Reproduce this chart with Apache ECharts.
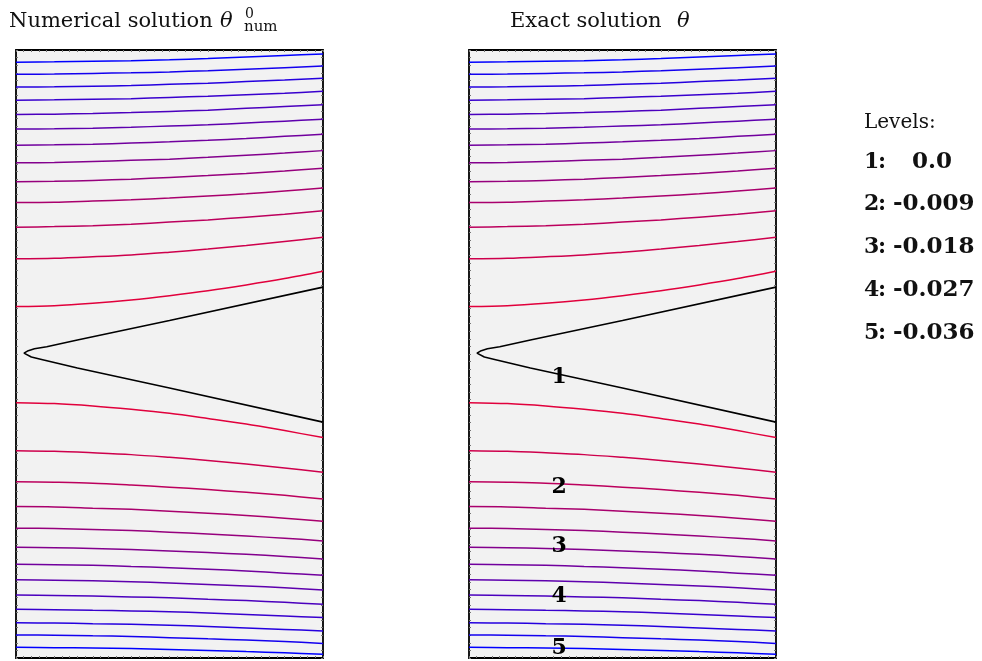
<!DOCTYPE html>
<html>
<head>
<meta charset="utf-8">
<script src="https://cdn.jsdelivr.net/npm/echarts@6/dist/echarts.min.js"></script>
<style>html,body{margin:0;padding:0;background:#fff;}#c{width:982px;height:661px;}</style>
</head>
<body>
<div id="c"></div>
<script>
// ---- data ----
const xs = [0, 0.125, 0.25, 0.375, 0.5, 0.625, 0.75, 0.875, 1];
// contour lines above the crack, listed from the top down to the crack
const upperLines = [
  [0.960, 0.961, 0.963, 0.965, 0.968, 0.972, 0.977, 0.982, 0.987],
  [0.920, 0.921, 0.923, 0.925, 0.928, 0.932, 0.937, 0.942, 0.947],
  [0.878, 0.879, 0.881, 0.883, 0.887, 0.891, 0.896, 0.901, 0.907],
  [0.835, 0.836, 0.838, 0.840, 0.844, 0.848, 0.853, 0.858, 0.864],
  [0.788, 0.789, 0.791, 0.794, 0.798, 0.802, 0.808, 0.814, 0.820],
  [0.740, 0.741, 0.743, 0.746, 0.750, 0.754, 0.760, 0.766, 0.772],
  [0.687, 0.688, 0.690, 0.694, 0.698, 0.703, 0.709, 0.716, 0.723],
  [0.629, 0.630, 0.633, 0.637, 0.641, 0.647, 0.654, 0.661, 0.669],
  [0.567, 0.568, 0.571, 0.575, 0.581, 0.587, 0.594, 0.602, 0.611],
  [0.498, 0.499, 0.503, 0.507, 0.513, 0.520, 0.527, 0.536, 0.546],
  [0.417, 0.419, 0.422, 0.427, 0.434, 0.441, 0.450, 0.460, 0.471],
  [0.313, 0.315, 0.320, 0.326, 0.335, 0.345, 0.357, 0.370, 0.384],
  [0.156, 0.159, 0.167, 0.178, 0.192, 0.208, 0.227, 0.248, 0.272]
];
// contour lines below the crack, from the crack down to the bottom
const lowerLines = [
  [-0.160, -0.163, -0.171, -0.182, -0.195, -0.212, -0.230, -0.252, -0.275],
  [-0.318, -0.320, -0.325, -0.331, -0.340, -0.350, -0.362, -0.375, -0.389],
  [-0.420, -0.422, -0.425, -0.431, -0.438, -0.446, -0.455, -0.465, -0.477],
  [-0.502, -0.503, -0.507, -0.511, -0.517, -0.524, -0.531, -0.540, -0.550],
  [-0.573, -0.574, -0.577, -0.581, -0.586, -0.592, -0.599, -0.606, -0.615],
  [-0.636, -0.637, -0.640, -0.643, -0.648, -0.653, -0.659, -0.666, -0.674],
  [-0.692, -0.693, -0.695, -0.699, -0.703, -0.708, -0.714, -0.721, -0.728],
  [-0.743, -0.744, -0.746, -0.749, -0.753, -0.758, -0.763, -0.769, -0.776],
  [-0.793, -0.794, -0.796, -0.799, -0.802, -0.807, -0.811, -0.817, -0.823],
  [-0.840, -0.841, -0.843, -0.845, -0.848, -0.852, -0.857, -0.862, -0.867],
  [-0.884, -0.885, -0.887, -0.889, -0.892, -0.896, -0.901, -0.906, -0.911],
  [-0.924, -0.925, -0.927, -0.929, -0.933, -0.937, -0.941, -0.946, -0.952],
  [-0.965, -0.966, -0.967, -0.969, -0.972, -0.975, -0.979, -0.983, -0.988]
];
// zero level contour (crack)
const zeroContour = [
  [1.000, 0.220], [0.500, 0.110], [0.200, 0.046], [0.100, 0.024], [0.060, 0.017],
  [0.040, 0.011], [0.026, 0.003], [0.030, -0.003], [0.050, -0.010], [0.080, -0.017],
  [0.200, -0.046], [0.500, -0.112], [1.000, -0.224]
];
// inline level labels on the exact solution panel
const labelNames = ['1', '2', '3', '4', '5'];
const labelX = [0.294, 0.294, 0.294, 0.294, 0.294];
const labelY = [-0.075, -0.437, -0.634, -0.798, -0.967];
// level legend
const levelIds = ['1', '2', '3', '4', '5'];
const levelValues = ['0.0', '-0.009', '-0.018', '-0.027', '-0.036'];

// ---- styles ----
const SERIF = '"DejaVu Serif", "Liberation Serif", serif';
function lineColor(k) { // k = 1 (next to crack) .. 13 (far)
  const t = (k - 1) / 12;
  const r = Math.round(225 * (1 - t));
  const b = Math.round(60 + 195 * t);
  return 'rgb(' + r + ',0,' + b + ')';
}

const grids = [
  { left: 16, top: 50, width: 307, height: 608, show: true, backgroundColor: '#f2f2f2', borderColor: '#000', borderWidth: 1.8 },
  { left: 469, top: 50, width: 307, height: 608, show: true, backgroundColor: '#f2f2f2', borderColor: '#000', borderWidth: 1.8 }
];
const xAxes = [], yAxes = [];
const tickStyle = { show: true, inside: true, length: 2, lineStyle: { color: '#777', width: 1 } };
for (let g = 0; g < 2; g++) {
  ['bottom', 'top'].forEach(pos => xAxes.push({
    type: 'value', gridIndex: g, min: 0, max: 1, interval: 0.025, position: pos,
    axisLine: { show: false, onZero: false }, axisLabel: { show: false }, splitLine: { show: false },
    axisTick: tickStyle
  }));
  ['left', 'right'].forEach(pos => yAxes.push({
    type: 'value', gridIndex: g, min: -1, max: 1, interval: 0.025, position: pos,
    axisLine: { show: false, onZero: false }, axisLabel: { show: false }, splitLine: { show: false },
    axisTick: tickStyle
  }));
}

const series = [];
function addPanel(g) {
  const xi = g * 2, yi = g * 2;
  upperLines.forEach((ys, i) => {
    series.push({
      type: 'line', xAxisIndex: xi, yAxisIndex: yi, smooth: 0.3,
      symbol: 'none', silent: true,
      lineStyle: { color: lineColor(upperLines.length - i), width: 1.5 },
      data: ys.map((y, j) => [xs[j], y])
    });
  });
  lowerLines.forEach((ys, i) => {
    series.push({
      type: 'line', xAxisIndex: xi, yAxisIndex: yi, smooth: 0.3,
      symbol: 'none', silent: true,
      lineStyle: { color: lineColor(i + 1), width: 1.5 },
      data: ys.map((y, j) => [xs[j], y])
    });
  });
  series.push({
    type: 'line', xAxisIndex: xi, yAxisIndex: yi, symbol: 'none', silent: true,
    lineStyle: { color: '#000', width: 1.6 },
    data: zeroContour
  });
}
addPanel(0);
addPanel(1);
series.push({
  type: 'scatter', xAxisIndex: 2, yAxisIndex: 2, symbolSize: 0.1, silent: true,
  itemStyle: { color: '#000' },
  label: {
    show: true, position: 'inside', formatter: p => p.data[2],
    fontFamily: SERIF, fontWeight: 'bold', fontSize: 22, color: '#000', opacity: 1,
    textBorderWidth: 0
  },
  data: labelNames.map((n, i) => [labelX[i], labelY[i], n]),
  z: 10
});

const graphic = [
  { type: 'text', x: 9, y: 22, style: { text: 'Numerical solution', fontFamily: SERIF, fontSize: 21, fill: '#111', verticalAlign: 'middle' } },
  { type: 'text', x: 220, y: 22, style: { text: 'θ', fontFamily: SERIF, fontStyle: 'italic', fontSize: 21, fill: '#111', verticalAlign: 'middle' } },
  { type: 'text', x: 245, y: 14, style: { text: '0', fontFamily: SERIF, fontSize: 14, fill: '#111', verticalAlign: 'middle' } },
  { type: 'text', x: 244, y: 27, style: { text: 'num', fontFamily: SERIF, fontSize: 15, fill: '#111', verticalAlign: 'middle' } },
  { type: 'text', x: 510, y: 22, style: { text: 'Exact solution', fontFamily: SERIF, fontSize: 21, fill: '#111', verticalAlign: 'middle' } },
  { type: 'text', x: 677, y: 22, style: { text: 'θ', fontFamily: SERIF, fontStyle: 'italic', fontSize: 21, fill: '#111', verticalAlign: 'middle' } },
  { type: 'text', x: 864, y: 123, style: { text: 'Levels:', fontFamily: SERIF, fontSize: 20, fill: '#111', verticalAlign: 'middle' } }
];
const rowY = [162, 204.5, 247.5, 290.5, 333];
const boldFont = { fontFamily: SERIF, fontWeight: 'bold', fontSize: 22, fill: '#111', verticalAlign: 'middle' };
const valueFont = Object.assign({}, boldFont, { fontSize: 23 });
levelIds.forEach((id, i) => {
  graphic.push({ type: 'text', x: 864, y: rowY[i], style: Object.assign({ text: id }, boldFont) });
  graphic.push({ type: 'text', x: 878, y: rowY[i], style: Object.assign({ text: ':' }, boldFont) });
  graphic.push({ type: 'text', x: i === 0 ? 912 : 893, y: rowY[i], style: Object.assign({ text: levelValues[i] }, valueFont) });
});

const chart = echarts.init(document.getElementById('c'), null, { renderer: 'canvas' });
chart.setOption({
  animation: false,
  backgroundColor: '#fff',
  grid: grids, xAxis: xAxes, yAxis: yAxes, series: series, graphic: graphic
});
</script>
</body>
</html>
